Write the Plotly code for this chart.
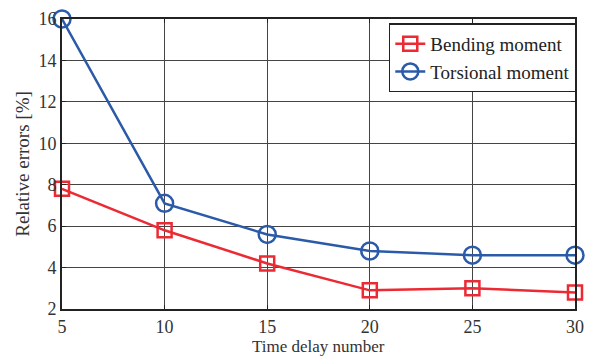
import plotly.graph_objects as go

delay = [5, 10, 15, 20, 25, 30]
bending = [7.8, 5.8, 4.2, 2.9, 3.0, 2.8]
torsional = [16.0, 7.1, 5.6, 4.8, 4.6, 4.6]

RED = "#ec2a33"
BLUE = "#2b5aa8"
FONT = "Liberation Serif, Times New Roman, serif"

fig = go.Figure()
fig.add_trace(go.Scatter(
    x=delay, y=bending, name="Bending moment", mode="lines+markers",
    line=dict(color=RED, width=2.5),
    marker=dict(symbol="square-open", size=14, color=RED, line=dict(width=2.5)),
    cliponaxis=False,
))
fig.add_trace(go.Scatter(
    x=delay, y=torsional, name="Torsional moment", mode="lines+markers",
    line=dict(color=BLUE, width=2.5),
    marker=dict(symbol="circle-open", size=17, color=BLUE, line=dict(width=2.5)),
    cliponaxis=False,
))

axis_common = dict(
    showgrid=True, gridcolor="#444444", gridwidth=1,
    showline=True, linecolor="#222222", linewidth=2, mirror="ticks",
    ticks="inside", ticklen=4, tickcolor="#222222",
    zeroline=False, automargin=False,
    tickfont=dict(family=FONT, size=18, color="#333333"),
)

fig.update_xaxes(range=[5, 30], tickvals=delay, ticklabelstandoff=0, **axis_common)
fig.update_yaxes(range=[2, 16], tickvals=[2, 4, 6, 8, 10, 12, 14, 16], **axis_common,
                 title=dict(text="Relative errors [%]", standoff=4,
                            font=dict(family=FONT, size=19, color="#333333")))

# x-axis title placed just below the tick labels
fig.add_annotation(text="Time delay number", xref="paper", yref="paper",
                   x=0.5, y=0, yshift=-37, xanchor="center", yanchor="middle",
                   showarrow=False, font=dict(family=FONT, size=17, color="#333333"))

fig.update_layout(
    width=590, height=356,
    margin=dict(l=62, r=15, t=19, b=47),
    plot_bgcolor="white", paper_bgcolor="white",
    legend=dict(x=0.637, y=0.985, xanchor="left", yanchor="top",
                bgcolor="white", bordercolor="#222222", borderwidth=1.5,
                font=dict(family=FONT, size=19, color="#222222"),
                tracegroupgap=0, itemwidth=30),
)

fig.write_html("out.html")
